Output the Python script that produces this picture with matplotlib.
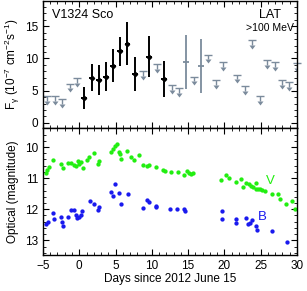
import numpy as np
import matplotlib
matplotlib.use('Agg')
import matplotlib.pyplot as plt
from matplotlib.ticker import MultipleLocator
from matplotlib.lines import CARETDOWNBASE

plt.rcParams['font.family'] = ['Liberation Sans', 'DejaVu Sans']
plt.rcParams['mathtext.default'] = 'regular'
plt.rcParams['font.size'] = 8.5

# LAT detections (black)
det_day = [0.7, 1.7, 2.7, 3.7, 4.7, 5.65, 6.65, 7.67, 9.64, 11.7]
det_flux = [3.9, 7.0, 6.7, 7.2, 8.9, 11.1, 12.3, 7.6, 10.3, 6.8]
det_err = [1.7, 2.1, 2.3, 2.2, 2.6, 2.3, 3.3, 2.6, 3.2, 2.85]

# LAT low-significance detections (grey)
weak_day = [14.74, 16.8]
weak_flux = [9.5, 8.8]
weak_err = [4.2, 4.2]

# LAT upper limits
ul_day = [-4.45, -3.4, -2.35, -1.3, -0.3, 8.73, 10.74, 12.77, 13.77, 15.8,
          17.8, 18.8, 19.8, 21.8, 22.8, 23.8, 24.9, 25.95, 26.96, 27.9, 28.9, 30.0]
ul_flux = [4.2, 4.2, 3.7, 6.1, 7.0, 8.0, 9.1, 5.85, 5.4, 7.2,
           10.6, 6.6, 9.5, 7.5, 5.7, 12.8, 4.15, 9.7, 9.4, 6.6, 6.3, 9.3]

# Optical V band
v_day = [-4.63, -4.4, -4.17, -3.58, -2.56, -2.2, -1.5, -1.19, -0.69, -0.45, -0.23,
         0.0, 0.19, 0.47, 1.1, 1.38, 2.02, 2.53, 2.7, 4.37, 4.6, 4.92, 5.15, 5.47,
         5.65, 5.79, 6.6, 7.2, 7.53, 8.2, 8.8, 9.4, 9.64, 10.52, 11.57, 11.8, 12.59,
         13.55, 14.47, 14.79, 15.1, 15.39, 15.7, 19.6, 20.2, 20.6, 21.6, 22.27, 22.6,
         22.96, 23.37, 23.7, 24.0, 24.3, 24.43, 24.7, 24.98, 25.26, 25.58, 26.64,
         27.33, 27.65, 28.57, 29.3, 29.71]
v_mag = [10.84, 10.73, 10.65, 10.43, 10.55, 10.68, 10.52, 10.52, 10.57, 10.62, 10.46,
         10.55, 10.49, 10.68, 10.43, 10.33, 10.19, 10.54, 10.46, 10.16, 10.06, 9.98,
         9.89, 10.16, 10.22, 10.38, 10.14, 10.32, 10.41, 10.25, 10.57, 10.6, 10.57,
         10.65, 10.75, 10.78, 10.81, 10.81, 10.89, 10.78, 10.82, 10.86, 10.84, 11.05,
         10.89, 11.0, 11.14, 11.03, 11.3, 11.16, 11.19, 11.25, 11.27, 11.16, 11.35,
         11.35, 11.35, 11.38, 11.4, 11.5, 11.5, 11.68, 11.83, 11.73, 11.99]

# Optical B band
b_day = [-4.63, -4.27, -3.66, -3.49, -2.56, -2.42, -2.2, -1.5, -1.19, -0.69, -0.45,
         -0.28, -0.04, 0.19, 0.41, 1.47, 2.07, 2.53, 2.71, 4.37, 4.6, 4.92, 5.47, 5.74,
         6.66, 8.8, 9.4, 9.64, 10.52, 10.56, 12.49, 13.5, 14.47, 14.56, 19.7, 19.7,
         21.58, 21.58, 22.92, 23.33, 23.6, 23.88, 24.43, 24.52, 26.64, 28.65]
b_mag = [12.47, 12.42, 12.13, 12.31, 12.26, 12.4, 12.54, 12.26, 12.04, 12.04, 12.18,
         12.29, 12.26, 12.2, 12.07, 11.75, 11.84, 12.02, 11.94, 11.46, 11.59, 11.18,
         11.48, 11.83, 11.52, 11.97, 11.72, 11.78, 11.89, 11.94, 12.0, 12.0, 11.99,
         12.05, 12.07, 12.31, 12.32, 12.45, 12.27, 12.48, 12.45, 12.36, 12.53, 12.68,
         12.7, 13.06]

grey = '#7b8b9c'
fig = plt.figure(figsize=(3.07, 2.91), dpi=100)
ax1 = fig.add_axes([0.140, 0.560, 0.827, 0.436])
ax2 = fig.add_axes([0.140, 0.124, 0.827, 0.436], sharex=ax1)

# top panel: upper limits drawn as cap + stem + small arrow head
ul_day_a = np.array(ul_day)
ul_flux_a = np.array(ul_flux)
stem = 0.75
ax1.plot(ul_day_a, ul_flux_a, ls='none', marker='_', ms=6, mew=1.0, color=grey, clip_on=False)
ax1.vlines(ul_day_a, ul_flux_a - stem, ul_flux_a, color=grey, lw=1.0)
ax1.plot(ul_day_a, ul_flux_a - stem, ls='none', marker=CARETDOWNBASE, ms=3.8,
         color=grey, mec='none')
ax1.errorbar(weak_day, weak_flux, yerr=weak_err, xerr=0.4, fmt='none', ecolor=grey,
             elinewidth=1.3)
ax1.errorbar(det_day, det_flux, yerr=det_err, xerr=0.4, fmt='D', ms=2.2, color='black',
             elinewidth=1.4)
ax1.set_xlim(-5, 30)
ax1.set_ylim(-0.8, 18.9)
ax1.yaxis.set_major_locator(MultipleLocator(5))
ax1.yaxis.set_minor_locator(MultipleLocator(1))
ax1.set_ylabel(r'F$_\gamma$ (10$^{-7}$ cm$^{-2}$s$^{-1}$)', labelpad=2)
ax1.text(-3.8, 16.3, 'V1324 Sco', fontsize=9)
ax1.text(26.3, 16.3, 'LAT', fontsize=9, ha='center')
ax1.text(26.3, 14.2, '>100 MeV', fontsize=7.5, ha='center')
plt.setp(ax1.get_xticklabels(), visible=False)

# bottom panel
ax2.plot(v_day, v_mag, 'o', color='#22ee11', ms=3.1, mec='none')
ax2.plot(b_day, b_mag, 'o', color='#1a1aee', ms=3.1, mec='none')
ax2.set_ylim(13.47, 9.39)
ax2.yaxis.set_major_locator(MultipleLocator(1))
ax2.yaxis.set_minor_locator(MultipleLocator(0.2))
ax2.xaxis.set_major_locator(MultipleLocator(5))
ax2.xaxis.set_minor_locator(MultipleLocator(1))
ax2.set_ylabel('Optical (magnitude)', labelpad=4)
ax2.set_xlabel('Days since 2012 June 15', labelpad=1)
ax2.text(26.3, 11.2, 'V', color='#22ee11', fontsize=9.5, ha='center')
ax2.text(25.3, 12.35, 'B', color='#1a1aee', fontsize=9.5, ha='center')

for ax in (ax1, ax2):
    ax.tick_params(which='both', direction='in', top=True, right=True)
    ax.tick_params(which='major', length=4)
    ax.tick_params(which='minor', length=2)
    for s in ax.spines.values():
        s.set_linewidth(1.0)

fig.savefig('out.png', dpi=100)
